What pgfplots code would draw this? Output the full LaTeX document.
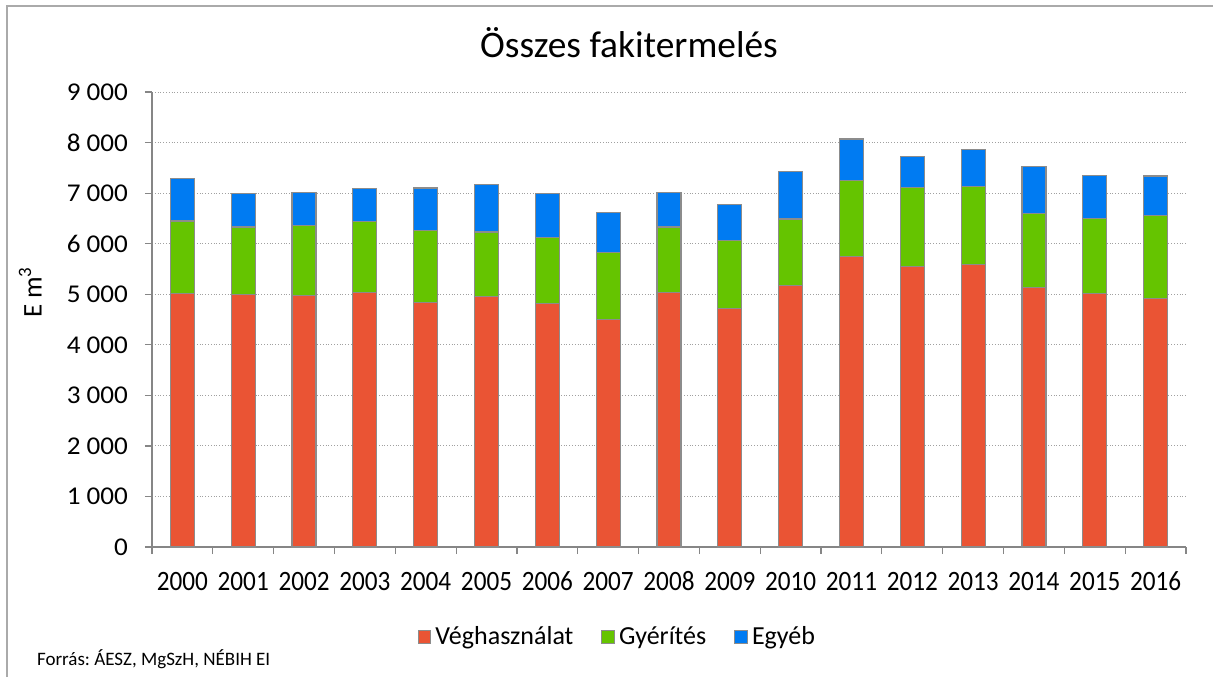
\documentclass[border=0pt]{standalone}
\usepackage{pgfplots}
\pgfplotsset{compat=1.18}
\usepackage{pgfplotstable}
\usepackage{fontspec}
\setmainfont{Carlito}
\frenchspacing
\definecolor{cRed}{RGB}{234,84,52}
\definecolor{cGreen}{RGB}{101,196,0}
\definecolor{cBlue}{RGB}{0,123,242}
\definecolor{cEdge}{RGB}{140,140,140}
\definecolor{cAxis}{RGB}{134,134,134}
\definecolor{cGrid}{RGB}{160,160,160}
\definecolor{cFrame}{RGB}{170,170,170}
\pgfplotstableread{
x V G E
0 5010 1440 840
1 4990 1340 670
2 4980 1380 650
3 5040 1400 650
4 4840 1420 840
5 4950 1280 940
6 4810 1320 870
7 4500 1320 790
8 5030 1300 690
9 4720 1350 710
10 5180 1310 940
11 5750 1500 820
12 5550 1560 620
13 5590 1540 740
14 5130 1470 920
15 5010 1490 850
16 4910 1640 790
}\datatable
\begin{document}
\begin{tikzpicture}
\path[use as bounding box] (0,0) rectangle (606.5pt,338.5pt);
\draw[cFrame, line width=0.7pt] (3.5pt,0) -- (3.5pt,335.5pt) -- (606.5pt,335.5pt);
\node[anchor=base, font=\fontsize{18.7}{21}\selectfont] at (314.5pt,310pt) {Összes fakitermelés};
\node[anchor=base west, font=\fontsize{9.5}{11}\selectfont] at (15pt,6pt) {Forrás: ÁESZ, MgSzH, NÉBIH EI};
\begin{axis}[
  at={(76pt,65pt)}, anchor=south west,
  scale only axis, width=517pt, height=227.5pt,
  ybar stacked, bar width=12pt,
  xmin=-0.5, xmax=16.5, ymin=0, ymax=9000,
  axis x line*=bottom, axis y line*=left,
  axis line style={cAxis, line width=0.6pt, -},
  xtick={0,...,16},
  xticklabels={2000,2001,2002,2003,2004,2005,2006,2007,2008,2009,2010,2011,2012,2013,2014,2015,2016},
  minor xtick={-0.5,0.5,...,16.5},
  major x tick style={draw=none},
  minor x tick style={cAxis, line width=0.6pt},
  tick align=outside,
  minor tick length=3.5pt, major tick length=3.5pt,
  ytick={0,1000,...,9000},
  y tick style={cAxis, line width=0.6pt},
  ymajorgrids, grid style={cGrid, densely dotted, line width=0.5pt},
  xticklabel style={font=\fontsize{14}{16}\selectfont\addfontfeature{FakeStretch=0.9}, anchor=base, yshift=-18pt},
  yticklabel style={font=\fontsize{12.8}{15}\selectfont\addfontfeature{FakeStretch=1.06}, xshift=-5pt},
  /pgf/number format/assume math mode=true,
  /pgf/number format/1000 sep={\ },
  scaled y ticks=false,
  ylabel={E m\textsuperscript{3}},
  every axis y label/.style={at={(axis description cs:-0.100,0.56)}, rotate=90, anchor=south, font=\fontsize{13.5}{15}\selectfont},
  legend columns=3,
  legend style={at={(axis description cs:0.451,-0.198)}, anchor=center, draw=none, fill=none,
    font=\fontsize{13}{15}\selectfont, /tikz/every even column/.append style={column sep=12pt}},
  legend image code/.code={\draw[#1, draw=cEdge, line width=0.5pt] (0pt,-3.2pt) rectangle (6.4pt,3.2pt);},
]
\addplot[fill=cRed, draw=cEdge, line width=0.6pt] table[x=x, y=V] {\datatable};
\addlegendentry{Véghasználat}
\addplot[fill=cGreen, draw=cEdge, line width=0.6pt] table[x=x, y=G] {\datatable};
\addlegendentry{Gyérítés}
\addplot[fill=cBlue, draw=cEdge, line width=0.6pt] table[x=x, y=E] {\datatable};
\addlegendentry{Egyéb}
\end{axis}
\end{tikzpicture}
\end{document}
